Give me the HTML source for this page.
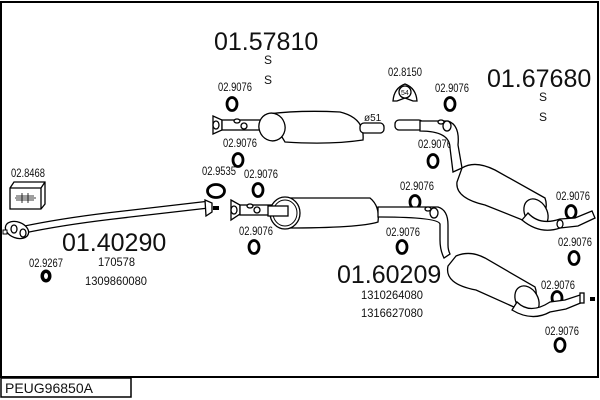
<!DOCTYPE html>
<html><head><meta charset="utf-8"><style>
body{margin:0;background:#fff;width:600px;height:400px;overflow:hidden}
svg{display:block}
text{font-family:"Liberation Sans",sans-serif;fill:#111}
.s{font-size:12px}
.b{font-size:25px}
.m{font-size:12px}
.p{fill:#fff;stroke:#000;stroke-width:1.3}
.r{fill:none;stroke:#000;stroke-width:2.8}
</style></head><body>
<svg width="600" height="400" viewBox="0 0 600 400">
<rect x="1" y="2" width="597" height="375" fill="none" stroke="#000" stroke-width="2"/>
<rect x="1" y="378" width="130" height="19" fill="#fff" stroke="#000" stroke-width="1.5"/>
<text x="5" y="393" style="font-size:14px">PEUG96850A</text>

<text class="b" x="214" y="50">01.57810</text>
<text class="m" x="264" y="64">S</text><text class="m" x="264" y="84">S</text>
<text class="b" x="487" y="87">01.67680</text>
<text class="m" x="539" y="101">S</text><text class="m" x="539" y="121">S</text>
<text class="b" x="62" y="251">01.40290</text>
<text class="b" x="337" y="283">01.60209</text>
<text class="m" x="98" y="266" textLength="37" lengthAdjust="spacingAndGlyphs">170578</text>
<text class="m" x="85" y="285" textLength="62" lengthAdjust="spacingAndGlyphs">1309860080</text>
<text class="m" x="361" y="299" textLength="62" lengthAdjust="spacingAndGlyphs">1310264080</text>
<text class="m" x="361" y="317" textLength="62" lengthAdjust="spacingAndGlyphs">1316627080</text>

<g class="s">
<text x="218" y="91" textLength="34" lengthAdjust="spacingAndGlyphs">02.9076</text>
<text x="223" y="147" textLength="34" lengthAdjust="spacingAndGlyphs">02.9076</text>
<text x="388" y="76" textLength="34" lengthAdjust="spacingAndGlyphs">02.8150</text>
<text x="435" y="92" textLength="34" lengthAdjust="spacingAndGlyphs">02.9076</text>
<text x="418" y="148" textLength="34" lengthAdjust="spacingAndGlyphs">02.9076</text>
<text x="202" y="175" textLength="34" lengthAdjust="spacingAndGlyphs">02.9535</text>
<text x="244" y="178" textLength="34" lengthAdjust="spacingAndGlyphs">02.9076</text>
<text x="239" y="235" textLength="34" lengthAdjust="spacingAndGlyphs">02.9076</text>
<text x="400" y="190" textLength="34" lengthAdjust="spacingAndGlyphs">02.9076</text>
<text x="386" y="236" textLength="34" lengthAdjust="spacingAndGlyphs">02.9076</text>
<text x="556" y="200" textLength="34" lengthAdjust="spacingAndGlyphs">02.9076</text>
<text x="558" y="246" textLength="34" lengthAdjust="spacingAndGlyphs">02.9076</text>
<text x="541" y="289" textLength="34" lengthAdjust="spacingAndGlyphs">02.9076</text>
<text x="545" y="335" textLength="34" lengthAdjust="spacingAndGlyphs">02.9076</text>
<text x="29" y="267" textLength="34" lengthAdjust="spacingAndGlyphs">02.9267</text>
<text x="11" y="177" textLength="34" lengthAdjust="spacingAndGlyphs">02.8468</text>
</g>

<g>
<ellipse class="r" cx="232" cy="104" rx="5" ry="6.5"/>
<ellipse class="r" cx="238" cy="160" rx="5" ry="6.5"/>
<ellipse class="r" cx="450" cy="104" rx="5" ry="6.5"/>
<ellipse class="r" cx="433" cy="161" rx="5" ry="6.5"/>
<ellipse class="r" cx="216" cy="191" rx="8.5" ry="6.5"/>
<ellipse class="r" cx="258" cy="190" rx="5" ry="6.5"/>
<ellipse class="r" cx="254" cy="247" rx="5" ry="6.5"/>
<ellipse class="r" cx="415" cy="202" rx="5" ry="6.5"/>
<ellipse class="r" cx="402" cy="247" rx="5" ry="6.5"/>
<ellipse class="r" cx="571" cy="212" rx="5" ry="6.5"/>
<ellipse class="r" cx="574" cy="258" rx="5" ry="6.5"/>
<ellipse class="r" cx="557" cy="298" rx="5" ry="6.5"/>
<ellipse class="r" cx="560" cy="345" rx="5" ry="6.5"/>
<ellipse cx="46" cy="276" rx="5.5" ry="6.5" fill="#000"/><ellipse cx="46" cy="276" rx="2" ry="3" fill="#fff"/>
</g>

<path class="p" d="M10 188 L14 182 L45 182 L45 204 L41 209 L10 209 Z M10 188 L41 188 L45 182 M41 188 L41 209"/>
<path d="M15 198 H36 M16 196 H34 M16 200 H34 M22 193 V203 M28 193 V203" stroke="#000" stroke-width="0.8"/>

<path class="p" d="M393 101 Q394 88 405 84 Q416 88 417 101 L413 101 L405 98 L397 101 Z"/>
<circle class="p" cx="405" cy="92" r="6"/>
<text x="401" y="95" style="font-size:7px">54</text>

<path d="M22 230 Q60 222 110 216 L205 205" fill="none" stroke="#000" stroke-width="8"/>
<path d="M22 230 Q60 222 110 216 L205 205" fill="none" stroke="#fff" stroke-width="5.5"/>
<ellipse class="p" cx="17" cy="230" rx="12" ry="8" transform="rotate(20 17 230)"/>
<ellipse class="p" cx="14" cy="229" rx="3" ry="4"/>
<ellipse class="p" cx="23" cy="233" rx="3" ry="4"/>
<rect x="3" y="230" width="4" height="4" fill="#fff" stroke="#000"/>
<path class="p" d="M205 200 L212 203 L212 212 L206 216 Z"/>
<rect x="213" y="206" width="6" height="4" fill="#000"/>

<path class="p" d="M231 200 L240 205 L240 214 L231 220 Z"/>
<ellipse class="p" cx="234" cy="210" rx="3" ry="4"/>
<rect class="p" x="240" y="205" width="40" height="10"/>
<ellipse class="p" cx="250" cy="206" rx="3" ry="2"/>
<ellipse class="p" cx="257" cy="210" rx="3" ry="3"/>
<path class="p" d="M285 198 L370 198 Q380 206 378 222 Q360 228 285 228 Z"/>
<ellipse class="p" cx="285" cy="213" rx="15" ry="16"/>
<ellipse fill="none" stroke="#000" cx="285" cy="213" rx="12" ry="13"/>
<rect class="p" x="268" y="206" width="20" height="10"/>
<path class="p" d="M378 207 L438 207 Q448 210 448 225 L448 245 Q448 250 450 254 L444 258 Q440 250 440 240 L440 224 Q438 217 378 217 Z"/>
<ellipse class="p" cx="434" cy="213" rx="4" ry="5"/>
<ellipse class="p" cx="428" cy="209" rx="3" ry="2"/>
<path class="p" d="M456 256 Q470 250 485 258 L535 287 Q540 300 525 312 L476 290 Q444 284 448 266 Z"/>
<ellipse class="p" cx="527" cy="300" rx="11" ry="15" transform="rotate(-30 527 300)"/>
<path class="p" d="M517 302 Q530 315 550 302 L565 300 L580 295 L583 302 L566 309 L550 312 Q532 322 512 310 Z"/>
<rect class="p" x="580" y="293" width="4" height="10"/>
<rect x="590" y="297" width="5" height="4" fill="#000"/>

<path class="p" d="M213 116 L222 120 L222 130 L213 134 Z"/>
<ellipse class="p" cx="216" cy="125" rx="3" ry="4"/>
<rect class="p" x="222" y="120" width="48" height="10"/>
<ellipse class="p" cx="237" cy="121" rx="3" ry="2"/>
<ellipse class="p" cx="244" cy="126" rx="3" ry="3"/>
<path class="p" d="M268 114 Q300 110 340 112 Q365 118 363 140 Q330 145 285 142 Z"/>
<ellipse class="p" cx="272" cy="127" rx="13" ry="14" transform="rotate(-20 272 127)"/>
<rect class="p" x="360" y="123" width="24" height="10" rx="4"/>
<text x="364" y="121" style="font-size:10px">ø51</text>

<rect class="p" x="395" y="120" width="28" height="10" rx="4"/>
<path class="p" d="M420 121 L448 121 Q460 125 458 145 L462 168 L453 172 L450 148 Q450 131 420 131 Z"/>
<ellipse class="p" cx="447" cy="126" rx="4" ry="5"/>
<ellipse class="p" cx="441" cy="122" rx="3" ry="2"/>
<path class="p" d="M462 168 Q475 160 495 170 L545 198 Q550 212 535 225 L485 205 Q455 198 457 182 Z"/>
<ellipse class="p" cx="536" cy="213" rx="11" ry="15" transform="rotate(-30 536 213)"/>
<path class="p" d="M528 213 Q540 226 560 219 L575 218 L592 211 L595 218 L578 226 L560 228 Q540 235 522 220 Z"/>
<ellipse class="p" cx="560" cy="224" rx="3" ry="4"/>
</svg>
</body></html>
